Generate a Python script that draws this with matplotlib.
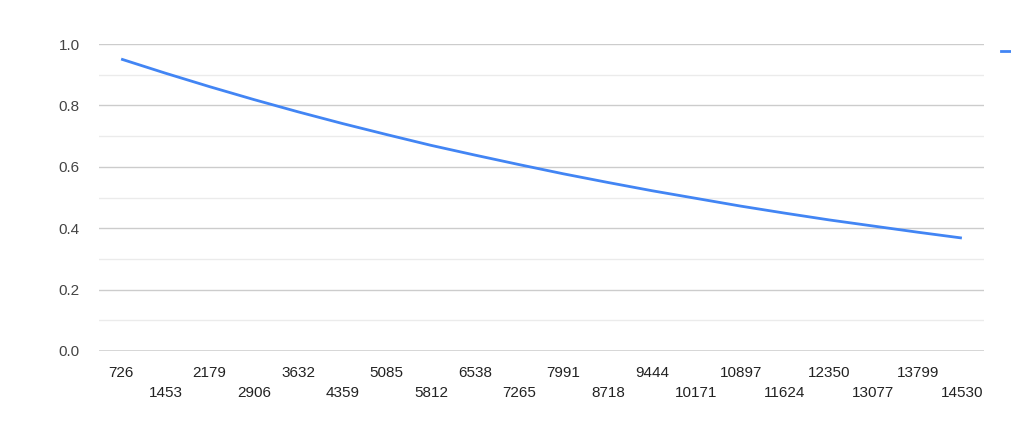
import numpy as np
import matplotlib.pyplot as plt
from matplotlib.lines import Line2D

# category labels along the x axis
categories = ["726", "1453", "2179", "2906", "3632", "4359", "5085", "5812", "6538", "7265",
              "7991", "8718", "9444", "10171", "10897", "11624", "12350", "13077", "13799", "14530"]
# series values
values = [0.951, 0.905, 0.861, 0.819, 0.779, 0.741, 0.705, 0.670, 0.638, 0.607,
          0.577, 0.549, 0.522, 0.497, 0.472, 0.449, 0.427, 0.407, 0.387, 0.368]
y_major = [0.0, 0.2, 0.4, 0.6, 0.8, 1.0]
y_minor = [0.1, 0.3, 0.5, 0.7, 0.9]

plt.rcParams["font.family"] = ["Liberation Sans", "DejaVu Sans"]

fig = plt.figure(figsize=(10.11, 4.26), dpi=100)
ax = fig.add_axes([99 / 1011, 1 - 351 / 426, 885 / 1011, 307 / 426])

x = np.arange(len(categories))
ax.plot(x, values, color="#4285F4", linewidth=2, solid_capstyle="butt")

ax.set_xlim(-0.5, len(categories) - 0.5)
ax.set_ylim(0, 1.0)

for y in y_minor:
    ax.axhline(y, color="#ebebeb", linewidth=1, zorder=0)
for y in y_major[1:]:
    ax.axhline(y, color="#cccccc", linewidth=1, zorder=0)
ax.axhline(0, color="#333333", linewidth=1, zorder=3)

ax.set_yticks(y_major)
ax.set_yticklabels([f"{v:.1f}" for v in y_major])
labels = [c if i % 2 == 0 else "\n" + c for i, c in enumerate(categories)]
ax.set_xticks(x)
ax.set_xticklabels(labels, linespacing=1.5)
ax.tick_params(axis="both", length=0, labelsize=11)
ax.tick_params(axis="y", pad=14, labelcolor="#444444")
ax.tick_params(axis="x", pad=11, labelcolor="#222222")
for s in ax.spines.values():
    s.set_visible(False)

# clipped legend marker at the right edge
fig.add_artist(Line2D([1001 / 1011, 1.0], [1 - 51 / 426] * 2, color="#4285F4",
                      linewidth=2, transform=fig.transFigure))

fig.savefig("out.png", dpi=100)
